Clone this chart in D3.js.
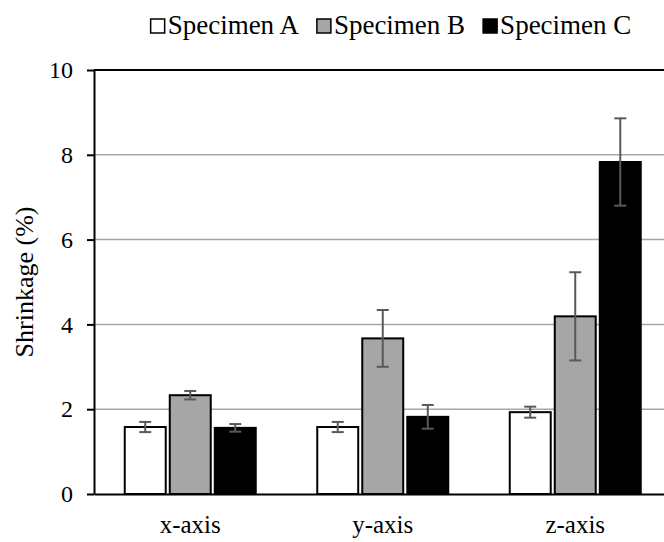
<!DOCTYPE html>
<html>
<head>
<meta charset="utf-8">
<script src="https://cdn.jsdelivr.net/npm/d3@7/dist/d3.min.js"></script>
<style>
  html, body { margin: 0; padding: 0; background: #fff; }
</style>
</head>
<body>
<svg id="chart" width="664" height="542"></svg>
<script>
// Shrinkage per axis for three specimens, mean and standard deviation (%)
const categories = ["x-axis", "y-axis", "z-axis"];
const seriesNames = ["Specimen A", "Specimen B", "Specimen C"];
const specimenA = [1.58, 1.58, 1.93];
const specimenB = [2.33, 3.67, 4.19];
const specimenC = [1.56, 1.82, 7.83];
const errorA = [0.12, 0.12, 0.13];
const errorB = [0.10, 0.67, 1.04];
const errorC = [0.09, 0.28, 1.03];
const yTicks = [0, 2, 4, 6, 8, 10];
const yLabel = "Shrinkage (%)";

const fills = ["#ffffff", "#a6a6a6", "#000000"];
const values = [specimenA, specimenB, specimenC];
const errors = [errorA, errorB, errorC];

// pick the first Times-like face that is actually installed
function pickFont(candidates) {
  const ctx = document.createElement("canvas").getContext("2d");
  const sample = "Specimen ABCwxyz (%) 0123456789";
  const widthWith = f => { ctx.font = `40px ${f}`; return ctx.measureText(sample).width; };
  const baseMono = widthWith("monospace"), baseSans = widthWith("sans-serif");
  for (const c of candidates) {
    const q = `"${c}"`;
    if (widthWith(`${q}, monospace`) !== baseMono || widthWith(`${q}, sans-serif`) !== baseSans) return q;
  }
  return "serif";
}
const fontFamily = pickFont(["Liberation Serif", "Tinos", "Times New Roman", "Times",
  "DejaVu Serif", "Noto Serif", "Nimbus Roman", "FreeSerif", "Noto Serif CJK SC"]);

const svg = d3.select("#chart").style("font-family", fontFamily);
const plot = { left: 94, right: 671.5, top: 70, bottom: 494 };

const x0 = d3.scaleBand().domain(categories).range([plot.left, plot.right]);
const groupWidth = 131;
const x1 = d3.scaleBand().domain(seriesNames).range([0, groupWidth]).paddingInner(0.09);
const y = d3.scaleLinear().domain([0, 10]).range([plot.bottom, plot.top]);

// horizontal gridlines
svg.append("g")
  .selectAll("line")
  .data(yTicks.filter(t => t > 0 && t < 10))
  .join("line")
  .attr("x1", plot.left).attr("x2", plot.right)
  .attr("y1", d => y(d)).attr("y2", d => y(d))
  .attr("stroke", "#a6a6a6").attr("stroke-width", 1.5);

// top border of the plot area
svg.append("line")
  .attr("x1", plot.left).attr("x2", plot.right)
  .attr("y1", y(10)).attr("y2", y(10))
  .attr("stroke", "#000").attr("stroke-width", 2);

// bars
const rows = [];
categories.forEach((c, ci) => {
  seriesNames.forEach((s, si) => {
    rows.push({ cat: c, series: s, si, value: values[si][ci], err: errors[si][ci] });
  });
});
const offset = (x0.bandwidth() - groupWidth) / 2;
const barX = d => x0(d.cat) + offset + x1(d.series);

svg.append("g")
  .selectAll("rect")
  .data(rows)
  .join("rect")
  .attr("x", barX)
  .attr("y", d => y(d.value))
  .attr("width", x1.bandwidth())
  .attr("height", d => y(0) - y(d.value))
  .attr("fill", d => fills[d.si])
  .attr("stroke", "#000")
  .attr("stroke-width", 2);

// error bars
const eb = svg.append("g").attr("stroke", "#595959").attr("stroke-width", 2);
const cap = 6;
rows.forEach(d => {
  const cx = barX(d) + x1.bandwidth() / 2;
  const hi = y(d.value + d.err), lo = y(d.value - d.err);
  eb.append("line").attr("x1", cx).attr("x2", cx).attr("y1", hi).attr("y2", lo);
  eb.append("line").attr("x1", cx - cap).attr("x2", cx + cap).attr("y1", hi).attr("y2", hi);
  eb.append("line").attr("x1", cx - cap).attr("x2", cx + cap).attr("y1", lo).attr("y2", lo);
});

// y axis
const yAxis = svg.append("g")
  .attr("transform", `translate(${plot.left},0)`)
  .call(d3.axisLeft(y).tickValues(yTicks).tickSize(7).tickPadding(14).tickSizeOuter(0));
yAxis.attr("font-family", fontFamily);
yAxis.select(".domain").attr("stroke", "#000").attr("stroke-width", 2);
yAxis.selectAll(".tick line").attr("stroke", "#000").attr("stroke-width", 2);
yAxis.selectAll(".tick text")
  .attr("font-size", 24).attr("fill", "#000");

// x axis
const xAxis = svg.append("g")
  .attr("transform", `translate(0,${plot.bottom})`)
  .call(d3.axisBottom(x0).tickSize(0).tickPadding(21).tickSizeOuter(0));
xAxis.attr("font-family", fontFamily);
xAxis.select(".domain").attr("stroke", "#000").attr("stroke-width", 2);
xAxis.selectAll(".tick text")
  .attr("font-size", 25).attr("fill", "#000");

// y axis title
svg.append("text")
  .attr("transform", `translate(33,${(plot.top + plot.bottom) / 2}) rotate(-90)`)
  .attr("text-anchor", "middle")
  .attr("font-size", 26)
  .attr("fill", "#000")
  .text(yLabel);

// legend
const legend = svg.append("g");
const box = 14, boxGap = 3, entryGap = 18;
let cursor = 0;
seriesNames.forEach((name, i) => {
  const g = legend.append("g");
  g.append("rect")
    .attr("x", 0).attr("y", -box - 1).attr("width", box).attr("height", box)
    .attr("fill", fills[i]).attr("stroke", "#000").attr("stroke-width", 1.5);
  const t = g.append("text")
    .attr("x", box + boxGap).attr("y", 0)
    .attr("font-size", 27).attr("fill", "#000")
    .text(name);
  const w = box + boxGap + t.node().getComputedTextLength();
  g.attr("transform", `translate(${cursor},0)`);
  cursor += w + entryGap;
});
const total = cursor - entryGap;
legend.attr("transform", `translate(${391 - total / 2},34)`);
</script>
</body>
</html>
